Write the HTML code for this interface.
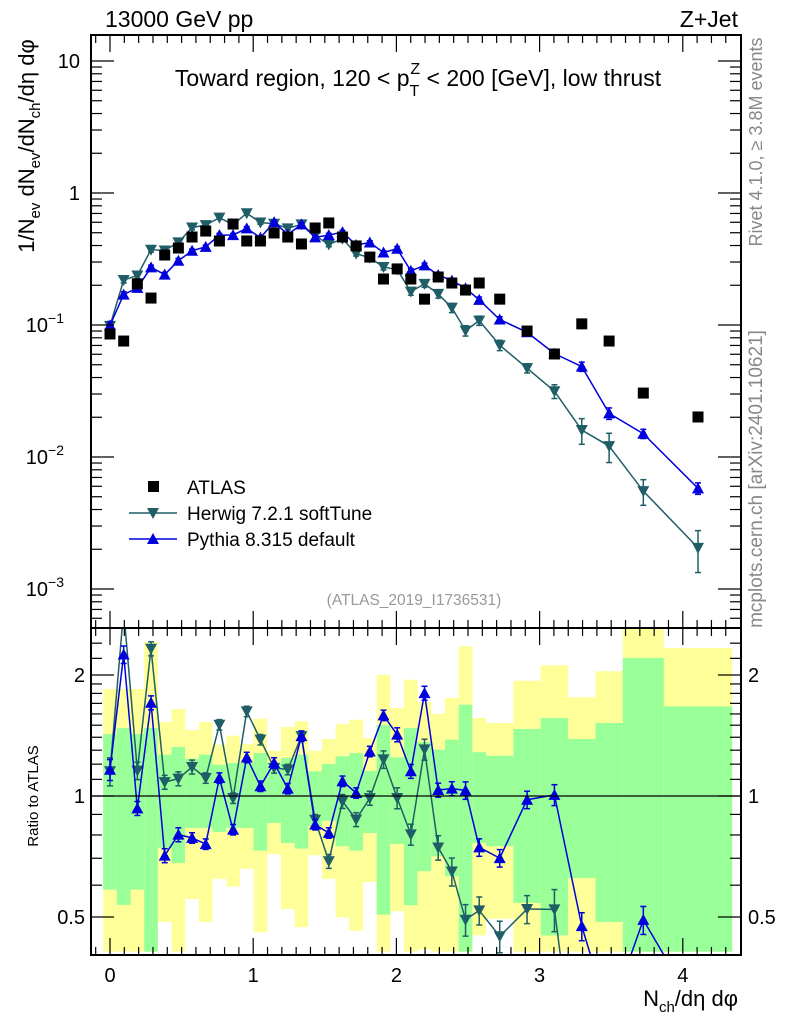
<!DOCTYPE html>
<html><head><meta charset="utf-8"><style>
html,body{margin:0;padding:0;background:#fff;width:786px;height:1024px;overflow:hidden;}
svg{display:block;font-family:"Liberation Sans",sans-serif;}
</style></head><body>
<svg id="chart" width="786" height="1024" viewBox="0 0 786 1024" xmlns="http://www.w3.org/2000/svg">
<defs>
<clipPath id="cm"><rect x="91" y="35" width="650" height="593"/></clipPath>
<clipPath id="cr"><rect x="91" y="628" width="650" height="327"/></clipPath>
</defs>
<g id="bands" clip-path="url(#cr)"></g>
<g id="marks"></g>
<g id="axes"></g>
<text x="105" y="27" font-size="23">13000 GeV pp</text>
<text x="738" y="27" font-size="23" text-anchor="end">Z+Jet</text>
<text x="418" y="86" font-size="23" text-anchor="middle">Toward region, 120 &lt; p<tspan font-size="16" dy="10">T</tspan><tspan font-size="16" dx="-9" dy="-22">Z</tspan><tspan dy="12"> &lt; 200 [GeV], low thrust</tspan></text>
<text x="414" y="605" font-size="15.5" fill="#999" text-anchor="middle">(ATLAS_2019_I1736531)</text>
<text transform="translate(762,142) rotate(-90)" font-size="18" fill="#888" text-anchor="middle">Rivet 4.1.0, ≥ 3.8M events</text>
<text transform="translate(762,479) rotate(-90)" font-size="19" fill="#888" text-anchor="middle">mcplots.cern.ch [arXiv:2401.10621]</text>
<text transform="translate(34,146) rotate(-90)" font-size="22" text-anchor="middle">1/N<tspan font-size="15" dy="6">ev</tspan><tspan dy="-6"> dN</tspan><tspan font-size="15" dy="6">ev</tspan><tspan dy="-6">/dN</tspan><tspan font-size="15" dy="6">ch</tspan><tspan dy="-6">/dη dφ</tspan></text>
<text transform="translate(38,796) rotate(-90)" font-size="15" text-anchor="middle">Ratio to ATLAS</text>
<text x="738" y="1006" font-size="22" text-anchor="end">N<tspan font-size="15" dy="6">ch</tspan><tspan dy="-6">/dη dφ</tspan></text>
<g>
<rect x="148" y="481" width="11" height="11" fill="#000"/>
<text x="187" y="494" font-size="19">ATLAS</text>
<line x1="129" y1="513" x2="177" y2="513" stroke="#1f5e66" stroke-width="1.5"/>
<polygon points="147,508 159,508 153,519" fill="#1f5e66"/>
<text x="187" y="520" font-size="19">Herwig 7.2.1 softTune</text>
<line x1="129" y1="539" x2="177" y2="539" stroke="#0000dd" stroke-width="1.5"/>
<polygon points="147,544 159,544 153,533" fill="#0000dd"/>
<text x="187" y="546" font-size="19">Pythia 8.315 default</text>
</g>
</svg>
<script>
const binEdges = [-0.5,0.5,1.5,2.5,3.5,4.5,5.5,6.5,7.5,8.5,9.5,10.5,11.5,12.5,13.5,14.5,15.5,16.5,17.5,18.5,19.5,20.5,21.5,22.5,23.5,24.5,25.5,26.5,27.5,29.5,31.5,33.5,35.5,37.5,40.5,45.5];
const atlas = [0.0855,0.0756,0.205,0.160,0.339,0.383,0.464,0.515,0.433,0.582,0.433,0.433,0.498,0.464,0.411,0.543,0.593,0.464,0.397,0.327,0.223,0.266,0.223,0.157,0.231,0.208,0.184,0.208,0.157,0.090,0.0603,0.102,0.0756,0.0305,0.0201];
const herwig = [0.0985,0.219,0.237,0.372,0.367,0.423,0.548,0.571,0.651,0.575,0.703,0.598,0.585,0.540,0.579,0.474,0.408,0.450,0.347,0.323,0.275,0.263,0.179,0.205,0.172,0.135,0.0906,0.108,0.0703,0.0471,0.0315,0.0160,0.0121,0.00552,0.00205];
const pythia = [0.0994,0.170,0.191,0.273,0.241,0.307,0.365,0.391,0.480,0.480,0.540,0.458,0.602,0.484,0.579,0.461,0.480,0.505,0.404,0.422,0.354,0.378,0.257,0.283,0.239,0.217,0.190,0.155,0.110,0.0881,0.0607,0.0484,0.0214,0.0150,0.00579];
const herwigErr = [.08,.05,.05,.04,.04,.04,.04,.03,.03,.03,.03,.03,.03,.03,.03,.03,.04,.04,.04,.04,.05,.06,.06,.06,.07,.08,.09,.08,.09,.08,.12,.22,.25,.22,.35];
const pythiaErr = [.06,.05,.04,.04,.04,.04,.03,.03,.03,.03,.03,.03,.03,.03,.03,.03,.03,.03,.03,.03,.03,.04,.04,.04,.04,.04,.05,.05,.05,.05,.06,.08,.10,.08,.10];
const yellowHi = [1.846,1.846,1.846,2.416,1.528,1.645,1.459,1.528,1.342,1.413,1.347,1.557,1.296,1.485,1.534,1.296,1.386,1.511,1.548,1.394,2.003,1.655,1.946,1.713,1.600,1.753,2.357,1.563,1.519,1.935,2.114,1.761,2.043,2.618,2.334];
const greenHi = [1.426,1.476,1.426,1.476,1.267,1.324,1.238,1.267,1.196,1.208,1.208,1.279,1.208,1.243,1.267,1.152,1.201,1.255,1.279,1.155,1.502,1.248,1.476,1.362,1.304,1.381,1.687,1.285,1.259,1.468,1.563,1.386,1.519,2.205,1.671];
const greenLo = [0.585,0.536,0.585,0.41,0.743,0.681,0.833,0.833,0.814,0.833,0.833,0.731,0.857,0.764,0.740,0.842,0.867,0.750,0.731,0.809,0.507,0.760,0.535,0.650,0.708,0.631,0.41,0.764,0.750,0.542,0.450,0.625,0.486,0.41,0.41];
const yellowLo = [0.41,0.41,0.41,0.41,0.486,0.41,0.554,0.486,0.622,0.595,0.659,0.458,0.717,0.523,0.472,0.712,0.622,0.499,0.462,0.611,0.41,0.517,0.41,0.415,0.41,0.41,0.41,0.450,0.495,0.41,0.41,0.41,0.41,0.41,0.41];
const xTicks = [0,1,2,3,4];
const mainTicks = [10,1,0.1,0.01,0.001];
const mainTickLabels = ["10","1","10|-1","10|-2","10|-3"];
const ratioTicks = [0.5,1,2];
const ratioTickLabels = ["0.5","1","2"];

const NS="http://www.w3.org/2000/svg";
const SCALE=10.472;
const L=91,R=741,MT=35,MB=628,RB=955;
function xs(v){return 110+v*143.2;}
function ym(v){return 193-132*Math.log10(v);}
function yr(r){return 796-402*Math.log10(r);}
function mk(tag,attrs,parent){const e=document.createElementNS(NS,tag);for(const k in attrs)e.setAttribute(k,attrs[k]);parent.appendChild(e);return e;}
const bands=document.getElementById('bands');
const marks=document.getElementById('marks');
const axes=document.getElementById('axes');
const centers=atlas.map((_,i)=>(binEdges[i]+binEdges[i+1])/2/SCALE);

for(let i=0;i<atlas.length;i++){
  const x0=xs(binEdges[i]/SCALE),x1=xs(binEdges[i+1]/SCALE);
  const y0=Math.max(MB,yr(yellowHi[i])),y1=Math.min(RB,yr(yellowLo[i]));
  const yb=mk('rect',{x:x0,y:y0,width:x1-x0,height:y1-y0,fill:'#ffff99'},bands);
  
  
  const g0=Math.max(MB,yr(greenHi[i])),g1=Math.min(RB,yr(greenLo[i]));
  const gb=mk('rect',{x:x0,y:g0,width:x1-x0,height:g1-g0,fill:'#99ff99'},bands);
  
  
}
const one=mk('line',{x1:L,x2:R,y1:yr(1),y2:yr(1),stroke:'#000','stroke-width':1.2},axes);



function clipSeg(x1,y1,x2,y2,top,bot){
  let t0=0,t1=1;const dy=y2-y1;
  const test=(p,q)=>{if(p===0)return q>=0;const r=q/p;if(p<0){if(r>t1)return false;if(r>t0)t0=r;}else{if(r<t0)return false;if(r<t1)t1=r;}return true;};
  if(!test(-dy,y1-top))return null;
  if(!test(dy,bot-y1))return null;
  return [x1+(x2-x1)*t0,y1+dy*t0,x1+(x2-x1)*t1,y1+dy*t1];
}
function series(vals,errs,color,up,yf,clip,name,div,top,bot){
  const g=mk('g',{'clip-path':'url(#'+clip+')'},marks);
  
  
  const v=vals.map((d,i)=>div?d/atlas[i]:d);
  for(let i=0;i+1<v.length;i++){
    const s=clipSeg(xs(centers[i]),yf(v[i]),xs(centers[i+1]),yf(v[i+1]),top,bot);
    if(s)mk('line',{x1:s[0],y1:s[1],x2:s[2],y2:s[3],stroke:color,'stroke-width':1.5},g);
  }
  v.forEach((d,i)=>{
    const x=xs(centers[i]),y=yf(d);
    if(y<top-6||y>bot+6)return;
    const ya=Math.max(top,yf(d*(1+errs[i]))),yb=Math.min(bot,yf(d*(1-errs[i])));
    mk('line',{x1:x,x2:x,y1:ya,y2:yb,stroke:color,'stroke-width':1.5},g);
    mk('line',{x1:x-3,x2:x+3,y1:ya,y2:ya,stroke:color,'stroke-width':1.5},g);
    mk('line',{x1:x-3,x2:x+3,y1:yb,y2:yb,stroke:color,'stroke-width':1.5},g);
    const p=up?`${x-6},${y+5} ${x+6},${y+5} ${x},${y-6}`:`${x-6},${y-5} ${x+6},${y-5} ${x},${y+6}`;
    const m=mk('polygon',{points:p,fill:color},g);
    
    
  });
}
series(herwig,herwigErr,'#1f5e66',false,ym,'cm','herwig-series',false,MT,MB);
series(pythia,pythiaErr,'#0000dd',true,ym,'cm','pythia-series',false,MT,MB);
series(herwig,herwigErr,'#1f5e66',false,yr,'cr','herwig-ratio',true,MB,RB);
series(pythia,pythiaErr,'#0000dd',true,yr,'cr','pythia-ratio',true,MB,RB);
const dg=mk('g',{'clip-path':'url(#cm)'},marks);


atlas.forEach((d,i)=>{
  const r=mk('rect',{x:xs(centers[i])-5.5,y:ym(d)-5.5,width:11,height:11,fill:'#000'},dg);
  
  
});

const f1=mk('rect',{x:L,y:MT,width:R-L,height:MB-MT,fill:'none',stroke:'#000','stroke-width':2},axes);


const f2=mk('rect',{x:L,y:MB,width:R-L,height:RB-MB,fill:'none',stroke:'#000','stroke-width':2},axes);


function ln(x1,y1,x2,y2){mk('line',{x1,y1,x2,y2,stroke:'#000','stroke-width':1.2},axes);}
for(let k=-1;k<=44;k++){
  const v=k/10,x=xs(v); if(x<L+1||x>R-1)continue;
  const major=k%10===0,len=major?17:8;
  ln(x,MT,x,MT+len);ln(x,MB,x,MB-len);ln(x,MB,x,MB+len);ln(x,RB,x,RB-len);
}
xTicks.forEach(t=>{
  const e=mk('text',{x:xs(t),y:982,'font-size':20,'text-anchor':'middle'},axes);
  e.textContent=String(t);
  
  
});
for(let d=-4;d<=1;d++){for(let m=1;m<10;m++){
  const v=m*Math.pow(10,d),y=ym(v); if(y<MT||y>MB)continue;
  const len=m===1?23:11; ln(L,y,L+len,y);ln(R,y,R-len,y);
}}
mainTicks.forEach((t,i)=>{
  const parts=mainTickLabels[i].split('|');
  const e=mk('text',{x:parts.length>1?64:80,y:ym(t)+7,'font-size':20,'text-anchor':'end'},axes);
  e.textContent=parts[0];
  if(parts.length>1){const s=mk('tspan',{'font-size':14,dy:-9},e);s.textContent='−'+parts[1].slice(1);}
  
  
});
[0.5,0.6,0.7,0.8,0.9,1,1.1,1.2,1.3,1.4,1.5,1.6,1.7,1.8,1.9,2,2.2,2.4].forEach(v=>{
  const y=yr(v),major=ratioTicks.includes(v),len=major?23:11;
  ln(L,y,L+len,y);ln(R,y,R-len,y);
});
ratioTicks.forEach((t,i)=>{
  const a=mk('text',{x:85,y:yr(t)+7,'font-size':20,'text-anchor':'end'},axes);
  a.textContent=ratioTickLabels[i];
  
  
  const b=mk('text',{x:748,y:yr(t)+7,'font-size':20},axes);
  b.textContent=ratioTickLabels[i];
  
  
});
</script>
</body></html>
